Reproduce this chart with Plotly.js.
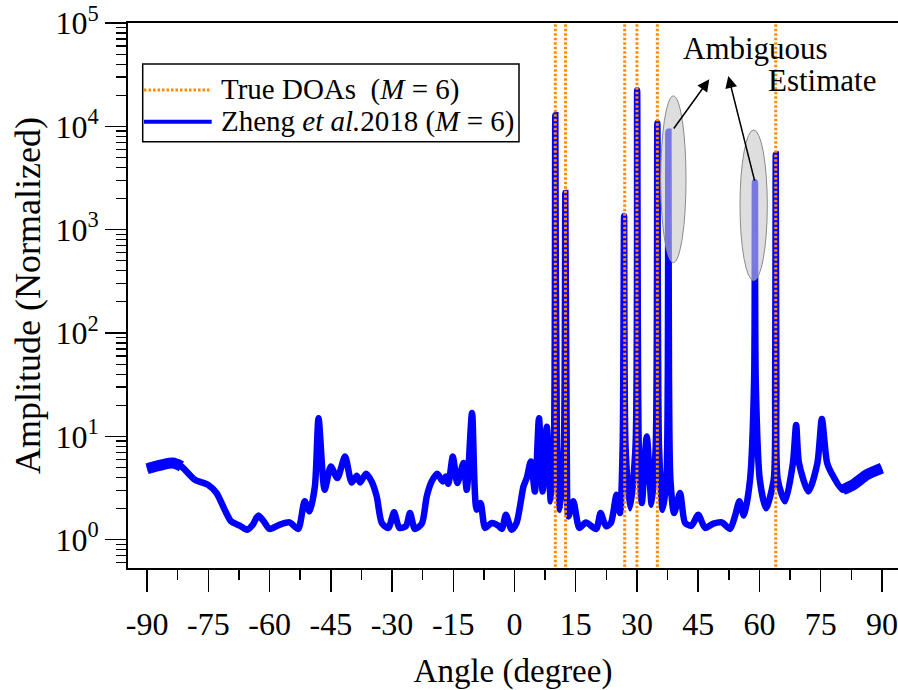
<!DOCTYPE html>
<html><head><meta charset="utf-8">
<script src="https://cdn.plot.ly/plotly-3.0.1.min.js"></script>
<style>html,body{margin:0;padding:0;background:#fff}</style>
</head><body><div id="chart" style="width:898px;height:690px"></div>
<script>
// Spatial spectrum (angle in degrees, normalized amplitude)
const angle = [-90,-83.7,-81.6,-78.3,-75.1,-73.0,-71.0,-69.4,-67.3,-65.5,-64.1,-62.8,-61.6,-60.0,-57.5,-55.1,-53.0,-51.4,-50.2,-48.9,-48.0,-46.5,-45.0,-43.4,-41.5,-39.9,-38.65,-37.8,-36.4,-35.0,-33.75,-32.5,-30.9,-29.5,-28.2,-26.6,-25.6,-24.4,-22.7,-21.5,-20.3,-18.9,-17.6,-16.8,-16.2,-15.1,-14.0,-12.5,-11.7,-10.4,-9.26,-8.3,-7.2,-5.6,-4.0,-3.1,-2.1,-0.7,0.5,2.2,3.0,4.0,5.0,6.0,6.9,7.9,8.9,9.65,10.0,10.4,11.15,12.1,12.45,12.8,13.2,14.4,15.9,17.5,20.0,21.1,22.4,23.6,25.0,25.85,26.5,26.85,27.2,28.3,29.65,30.05,30.45,31.2,32.4,33.6,34.6,35.0,35.4,36.3,37.2,37.55,37.7,37.85,38.2,39.1,40.55,41.8,43.4,45.0,46.7,48.7,50.8,52.8,54.0,55.1,56.2,57.7,58.7,58.9,59.1,60.1,61.6,63.5,63.85,64.0,64.15,64.5,66.3,68.2,69.0,69.7,72.0,74.2,75.3,76.6,78.1,80.4,83.0,86.3,90.0];
const amplitude = [4.85,5.51,5.11,3.80,3.40,2.83,1.95,1.50,1.37,1.25,1.40,1.71,1.54,1.27,1.40,1.47,1.27,2.35,1.88,3.27,15.0,3.04,5.11,3.95,6.38,3.58,4.15,3.58,4.35,3.66,2.62,1.45,1.30,1.84,1.30,1.35,1.81,1.27,1.43,2.62,3.66,4.35,3.66,4.09,3.48,6.38,3.53,5.51,3.04,16.8,1.95,2.26,1.30,1.45,1.37,1.27,1.74,1.25,1.45,3.27,3.95,5.71,2.93,15.0,2.93,12.4,2.35,8,12800,8,1.95,8,2270,8,1.68,2.35,1.30,1.47,1.27,1.81,1.35,1.45,2.72,1.81,8,1355,8,2.02,8,22350,8,2.26,9.96,2.18,8,10800,8,1.95,3.8,35,8840,35,3.8,1.81,2.83,1.45,1.37,1.74,1.30,1.43,1.47,1.27,1.68,2.35,1.71,3.8,35,2870,35,3.8,2.02,3.8,35,5350,35,3.8,2.35,5.5,12.9,5.5,2.93,5.5,14.7,5.5,4.09,3.04,3.40,4.25,4.93];
const trueDOAs = [10, 12.5, 27, 30, 35, 64];

const xTickVals = [-90,-75,-60,-45,-30,-15,0,15,30,45,60,75,90];
const xTickText = ['-90','-75','-60','-45','-30','-15','0','15','30','45','60','75','90'];
const xMinorVals = [-82.5,-67.5,-52.5,-37.5,-22.5,-7.5,7.5,22.5,37.5,52.5,67.5,82.5];
const yTickVals = [1,10,100,1000,10000,100000];
const yTickText = ['10<sup>0</sup>','10<sup>1</sup>','10<sup>2</sup>','10<sup>3</sup>','10<sup>4</sup>','10<sup>5</sup>'];

const yMinorVals = [0.6,0.7,0.8,0.9];
for (let e = 0; e < 5; e++) for (let m = 2; m <= 9; m++) yMinorVals.push(m * Math.pow(10, e));

// end segments where the spectrum is drawn as a wider band
const bandX = [], bandY = [];
angle.forEach((a, i) => { if (a <= -80) { bandX.push(a); bandY.push(amplitude[i]); } });
bandX.push(null); bandY.push(null);
angle.forEach((a, i) => { if (a >= 80) { bandX.push(a); bandY.push(amplitude[i]); } });

const doaX = [], doaY = [];
trueDOAs.forEach(d => { doaX.push(d, d, null); doaY.push(0.3, 3e5, null); });

const FONT = 'Liberation Serif, Times New Roman, serif';

const traces = [
  {x: angle, y: amplitude, type: 'scatter', mode: 'lines', name: 'Zheng et al.2018 (M = 6)',
   line: {color: '#0000FF', width: 6.5, shape: 'spline', smoothing: 0.7}, showlegend: false},
  {x: bandX, y: bandY, type: 'scatter', mode: 'lines', name: 'band',
   line: {color: '#0000FF', width: 11, shape: 'spline', smoothing: 0.7}, showlegend: false, connectgaps: false},
  {x: doaX, y: doaY, type: 'scatter', mode: 'lines', name: 'True DOAs (M = 6)',
   line: {color: '#FF8C00', width: 3, dash: '2.5px,2px'}, showlegend: false, connectgaps: false}
];

const px = v => (v - 128) / 770;       // pixel -> paper x
const py = v => (568.3 - v) / 545.3;   // pixel -> paper y

const layout = {
  width: 898, height: 690,
  margin: {l: 128, r: 0, t: 23, b: 122},
  paper_bgcolor: '#fff', plot_bgcolor: '#fff',
  font: {family: FONT, color: '#000', size: 32},
  showlegend: false,
  xaxis: {
    range: [-94.68, 93.95], showgrid: false, zeroline: false,
    showline: true, linecolor: '#000', linewidth: 2, mirror: true,
    ticks: 'outside', ticklen: 22, tickwidth: 1.5, tickcolor: '#000',
    tickmode: 'array', tickvals: xTickVals, ticktext: xTickText,
    tickfont: {family: FONT, size: 32}, ticklabelstandoff: 5,
    minor: {tickmode: 'array', tickvals: xMinorVals, ticks: 'outside', ticklen: 10, tickwidth: 1.5, tickcolor: '#000'},
    title: {text: 'Angle (degree)', font: {family: FONT, size: 33}, standoff: 24},
    automargin: false
  },
  yaxis: {
    type: 'log', range: [-0.274, 5], showgrid: false, zeroline: false,
    showline: true, linecolor: '#000', linewidth: 2, mirror: false,
    ticks: 'outside', ticklen: 21, tickwidth: 1.5, tickcolor: '#000',
    tickmode: 'array', tickvals: yTickVals, ticktext: yTickText,
    tickfont: {family: FONT, size: 32},
    minor: {tickmode: 'array', tickvals: yMinorVals, ticks: 'outside', ticklen: 10, tickwidth: 1.2, tickcolor: '#000'},
    title: {text: 'Amplitude (Normalized)', font: {family: FONT, size: 36}, standoff: 4},
    automargin: false
  },
  shapes: [
    {type: 'rect', xref: 'paper', yref: 'paper', x0: px(142.7), x1: px(519), y0: py(141.7), y1: py(64),
     line: {color: '#000', width: 1.5}, fillcolor: 'rgba(255,255,255,1)', layer: 'above'},
    {type: 'line', xref: 'paper', yref: 'paper', x0: px(144), x1: px(211.7), y0: py(90), y1: py(90),
     line: {color: '#FF8C00', width: 3, dash: '2.5px,2px'}, layer: 'above'},
    {type: 'line', xref: 'paper', yref: 'paper', x0: px(144), x1: px(211.7), y0: py(121.7), y1: py(121.7),
     line: {color: '#0000FF', width: 4}, layer: 'above'},
    {type: 'circle', xref: 'paper', yref: 'paper', x0: px(660.7), x1: px(686), y0: py(262.7), y1: py(96),
     line: {color: '#8a8a8a', width: 1}, fillcolor: 'rgba(200,200,200,0.6)', layer: 'above'},
    {type: 'circle', xref: 'paper', yref: 'paper', x0: px(740), x1: px(767.3), y0: py(280.7), y1: py(130),
     line: {color: '#8a8a8a', width: 1}, fillcolor: 'rgba(200,200,200,0.6)', layer: 'above'}
  ],
  annotations: [
    {xref: 'paper', yref: 'paper', x: px(219.3), y: py(90), xanchor: 'left', yanchor: 'middle', showarrow: false,
     text: 'True DOAs  (<i>M</i> = 6)', font: {family: FONT, size: 29}},
    {xref: 'paper', yref: 'paper', x: px(219.3), y: py(121.7), xanchor: 'left', yanchor: 'middle', showarrow: false,
     text: 'Zheng <i>et al.</i>2018 (<i>M</i> = 6)', font: {family: FONT, size: 29}},
    {xref: 'paper', yref: 'paper', x: px(755.5), y: py(48.5), xanchor: 'center', yanchor: 'middle', showarrow: false,
     text: 'Ambiguous', font: {family: FONT, size: 31}},
    {xref: 'paper', yref: 'paper', x: px(822), y: py(80.4), xanchor: 'center', yanchor: 'middle', showarrow: false,
     text: 'Estimate', font: {family: FONT, size: 31}},
    {xref: 'paper', yref: 'paper', x: px(709.3), y: py(79.3), ax: -36.6, ay: 50.7, text: '', showarrow: true,
     arrowhead: 2, arrowsize: 1.6, arrowwidth: 1.5, arrowcolor: '#000'},
    {xref: 'paper', yref: 'paper', x: px(728.3), y: py(76), ax: 26.7, ay: 106.3, text: '', showarrow: true,
     arrowhead: 2, arrowsize: 1.6, arrowwidth: 1.5, arrowcolor: '#000'}
  ]
};

Plotly.newPlot('chart', traces, layout, {displayModeBar: false, staticPlot: true});
</script>
</body></html>
